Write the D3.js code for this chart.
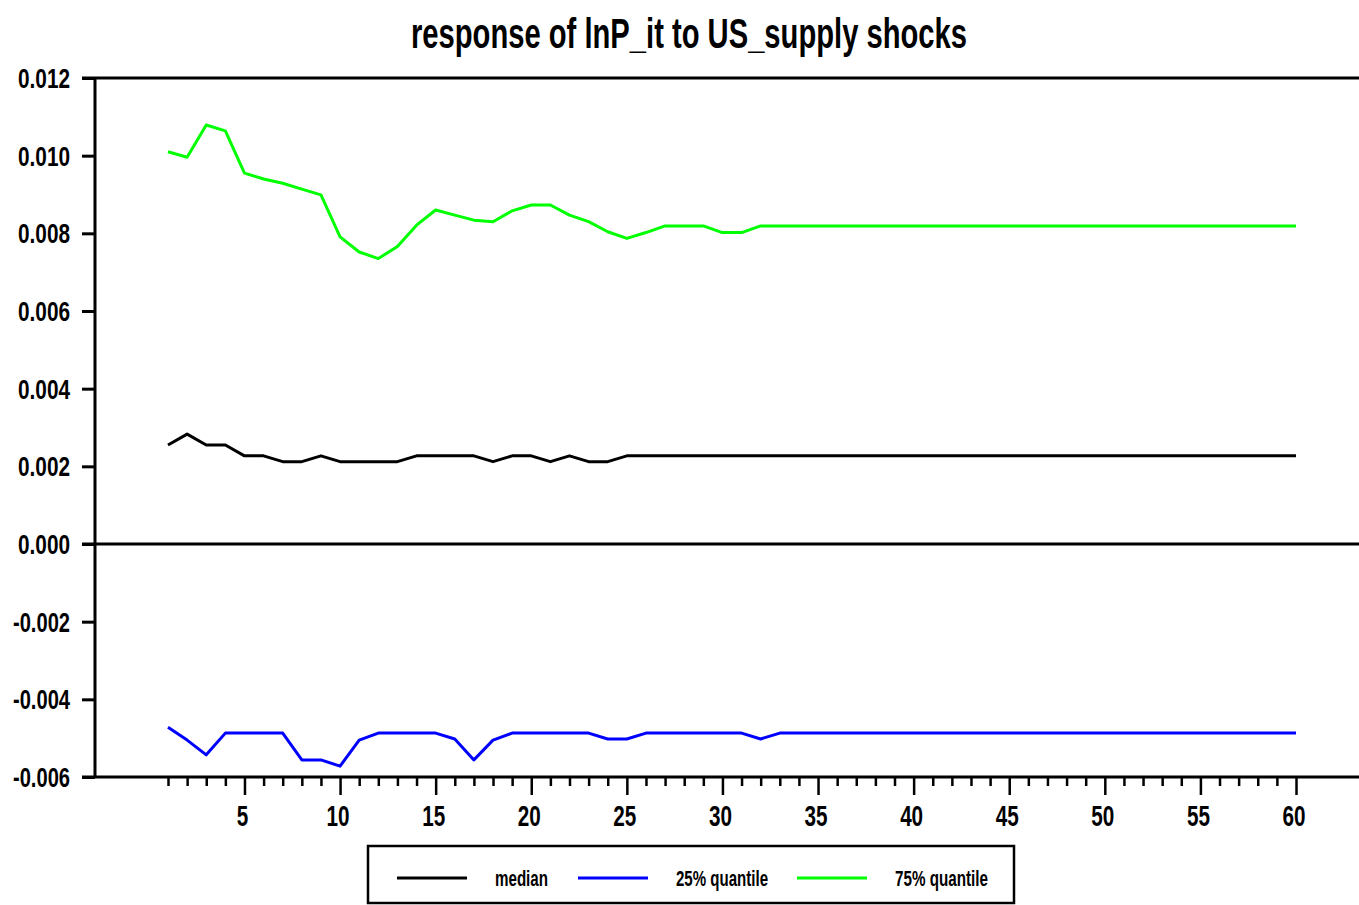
<!DOCTYPE html>
<html>
<head>
<meta charset="utf-8">
<script src="https://cdn.jsdelivr.net/npm/d3@7"></script>
<style>
  html, body { margin: 0; padding: 0; background: #fff; }
  svg { display: block; }
  text { font-family: "Liberation Sans", Arial, sans-serif; fill: #000; }
</style>
</head>
<body>
<svg id="chart" width="1359" height="905"></svg>
<script>
// ---- data ----
const periods = d3.range(1, 61);
const median = [0.00255, 0.00283, 0.00255, 0.00255, 0.00227, 0.00227, 0.00212, 0.00212, 0.00227, 0.00212,
  0.00212, 0.00212, 0.00212, 0.00227, 0.00227, 0.00227, 0.00227, 0.00212, 0.00227, 0.00227,
  0.00212, 0.00227, 0.00212, 0.00212, 0.00227, 0.00227, 0.00227, 0.00227, 0.00227, 0.00227,
  0.00227, 0.00227, 0.00227, 0.00227, 0.00227, 0.00227, 0.00227, 0.00227, 0.00227, 0.00227,
  0.00227, 0.00227, 0.00227, 0.00227, 0.00227, 0.00227, 0.00227, 0.00227, 0.00227, 0.00227,
  0.00227, 0.00227, 0.00227, 0.00227, 0.00227, 0.00227, 0.00227, 0.00227, 0.00227, 0.00227];
const q25 = [-0.00472, -0.00505, -0.00543, -0.00487, -0.00487, -0.00487, -0.00487, -0.00556, -0.00556, -0.00572,
  -0.00505, -0.00487, -0.00487, -0.00487, -0.00487, -0.00502, -0.00556, -0.00505, -0.00487, -0.00487,
  -0.00487, -0.00487, -0.00487, -0.00502, -0.00502, -0.00487, -0.00487, -0.00487, -0.00487, -0.00487,
  -0.00487, -0.00502, -0.00487, -0.00487, -0.00487, -0.00487, -0.00487, -0.00487, -0.00487, -0.00487,
  -0.00487, -0.00487, -0.00487, -0.00487, -0.00487, -0.00487, -0.00487, -0.00487, -0.00487, -0.00487,
  -0.00487, -0.00487, -0.00487, -0.00487, -0.00487, -0.00487, -0.00487, -0.00487, -0.00487, -0.00487];
const q75 = [0.01010, 0.00996, 0.01079, 0.01064, 0.00955, 0.00940, 0.00929, 0.00914, 0.00899, 0.00791,
  0.00752, 0.00735, 0.00766, 0.00821, 0.00860, 0.00847, 0.00834, 0.00830, 0.00858, 0.00873,
  0.00873, 0.00847, 0.00830, 0.00804, 0.00787, 0.00802, 0.00819, 0.00819, 0.00819, 0.00802,
  0.00802, 0.00819, 0.00819, 0.00819, 0.00819, 0.00819, 0.00819, 0.00819, 0.00819, 0.00819,
  0.00819, 0.00819, 0.00819, 0.00819, 0.00819, 0.00819, 0.00819, 0.00819, 0.00819, 0.00819,
  0.00819, 0.00819, 0.00819, 0.00819, 0.00819, 0.00819, 0.00819, 0.00819, 0.00819, 0.00819];
const yTicks = [-0.006, -0.004, -0.002, 0.000, 0.002, 0.004, 0.006, 0.008, 0.010, 0.012];
const xMajorTicks = [5, 10, 15, 20, 25, 30, 35, 40, 45, 50, 55, 60];
const seriesNames = ["median", "25% quantile", "75% quantile"];
const seriesColors = ["#000000", "#0000ff", "#00ff00"];
const title = "response of lnP_it to US_supply shocks";

// ---- layout ----
const svg = d3.select("#chart");
const plotLeft = 95, plotRight = 1359, plotTop = 78, plotBottom = 777;

const x = d3.scaleLinear().domain([1, 60]).range([168, 1296]);
const y = d3.scaleLinear().domain([-0.006, 0.012]).range([plotBottom, plotTop]);

// title
svg.append("text")
  .attr("x", 689).attr("y", 48)
  .attr("text-anchor", "middle")
  .attr("font-size", 42).attr("font-weight", "bold")
  .attr("textLength", 556).attr("lengthAdjust", "spacingAndGlyphs")
  .text(title);

// frame lines
const frame = svg.append("g").attr("stroke", "#000").attr("stroke-width", 3);
frame.append("line").attr("x1", 82).attr("x2", plotRight).attr("y1", plotTop).attr("y2", plotTop);
frame.append("line").attr("x1", plotLeft).attr("x2", plotLeft).attr("y1", plotTop).attr("y2", plotBottom);
frame.append("line").attr("x1", 82).attr("x2", plotRight).attr("y1", plotBottom).attr("y2", plotBottom);
frame.append("line").attr("x1", 82).attr("x2", plotRight).attr("y1", y(0)).attr("y2", y(0));

// y axis
const yAxis = d3.axisLeft(y).tickValues(yTicks).tickSize(13).tickFormat("");
const gy = svg.append("g").attr("transform", `translate(${plotLeft},0)`).call(yAxis);
gy.select(".domain").remove();
gy.selectAll(".tick line").attr("stroke", "#000").attr("stroke-width", 3);
const fmtY = d => d3.format(".3f")(d).replace("\u2212", "-");
svg.append("g").selectAll("text").data(yTicks).join("text")
  .attr("x", 70).attr("y", d => y(d) + 10)
  .attr("text-anchor", "end")
  .attr("font-size", 28).attr("font-weight", "bold")
  .attr("textLength", d => d < 0 ? 57 : 52).attr("lengthAdjust", "spacingAndGlyphs")
  .text(fmtY);

// x axis: minor and major ticks
const minor = periods.filter(p => p % 5 !== 0);
const gxm = svg.append("g").attr("transform", `translate(0,${plotBottom})`)
  .call(d3.axisBottom(x).tickValues(minor).tickSize(9).tickFormat(""));
gxm.select(".domain").remove();
gxm.selectAll(".tick line").attr("stroke", "#000").attr("stroke-width", 2.5);
const gxM = svg.append("g").attr("transform", `translate(0,${plotBottom})`)
  .call(d3.axisBottom(x).tickValues(xMajorTicks).tickSize(18).tickFormat(""));
gxM.select(".domain").remove();
gxM.selectAll(".tick line").attr("stroke", "#000").attr("stroke-width", 2.5);
svg.append("g").selectAll("text").data(xMajorTicks).join("text")
  .attr("x", d => x(d) - 2).attr("y", 826)
  .attr("text-anchor", "middle")
  .attr("font-size", 30).attr("font-weight", "bold")
  .attr("textLength", d => String(d).length * 11.5).attr("lengthAdjust", "spacingAndGlyphs")
  .text(d => d);

// lines
const line = d3.line().x((d, i) => x(periods[i])).y(d => y(d));
[median, q25, q75].forEach((s, k) => {
  svg.append("path").datum(s)
    .attr("fill", "none")
    .attr("stroke", seriesColors[k])
    .attr("stroke-width", 3)
    .attr("stroke-linejoin", "round")
    .attr("d", line);
});

// legend
const lg = svg.append("g");
lg.append("rect").attr("x", 368).attr("y", 846).attr("width", 646).attr("height", 57)
  .attr("fill", "#fff").attr("stroke", "#000").attr("stroke-width", 2.5);
const legendLineX = [397, 578, 797];
const legendTextX = [495, 676, 895];
const legendTextW = [53, 92, 93];
seriesNames.forEach((n, i) => {
  lg.append("line").attr("x1", legendLineX[i]).attr("x2", legendLineX[i] + 70)
    .attr("y1", 878).attr("y2", 878)
    .attr("stroke", seriesColors[i]).attr("stroke-width", 3);
  lg.append("text").attr("x", legendTextX[i]).attr("y", 886)
    .attr("font-size", 22).attr("font-weight", "bold")
    .attr("textLength", legendTextW[i]).attr("lengthAdjust", "spacingAndGlyphs")
    .text(n);
});
</script>
</body>
</html>
